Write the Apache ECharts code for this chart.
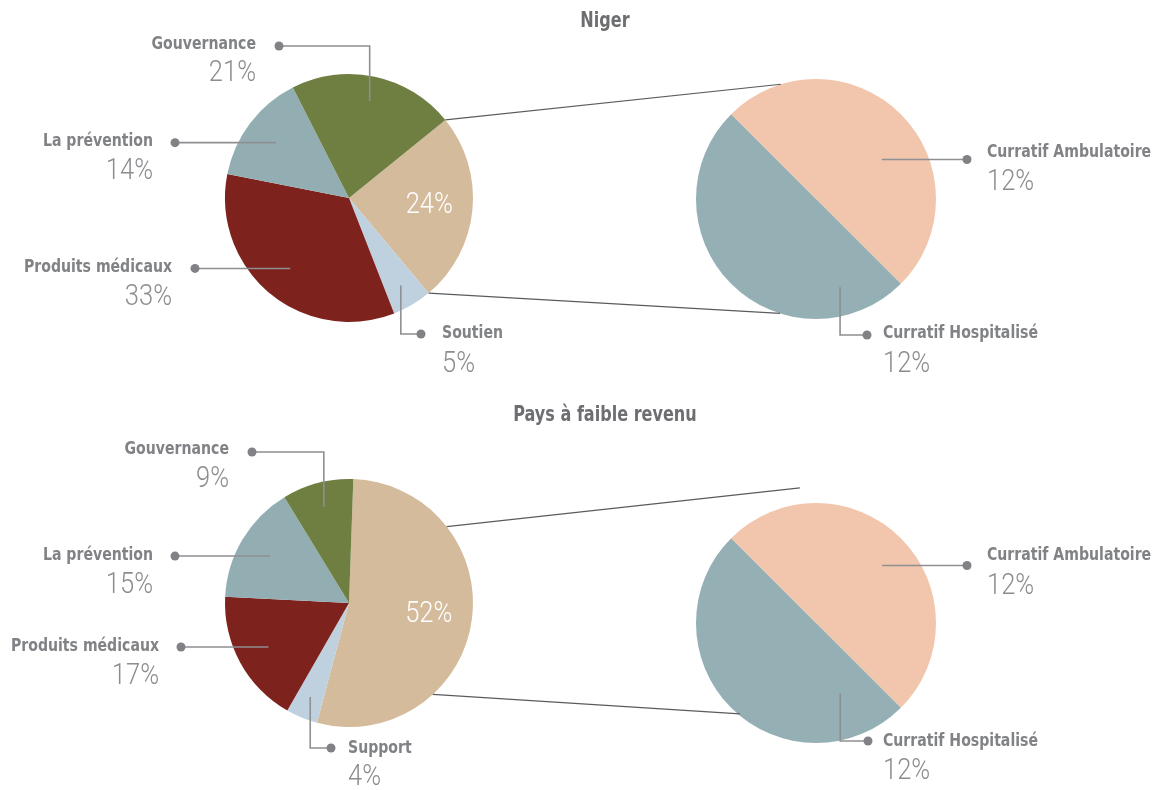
<!DOCTYPE html>
<html>
<head>
<meta charset="utf-8">
<script src="https://cdn.jsdelivr.net/npm/echarts@6/dist/echarts.min.js"></script>
<style>
  html, body { margin: 0; padding: 0; background: #ffffff; }
  #chart { width: 1155px; height: 790px; }
</style>
</head>
<body>
<div id="chart"></div>
<script>
// ---- Data ---------------------------------------------------------------
const titles = ['Niger', 'Pays à faible revenu'];

// Main pies: first slice is the curative share that is broken out on the right
const nigerCategories = ['Curatif', 'Soutien', 'Produits médicaux', 'La prévention', 'Gouvernance'];
const nigerValues = [24, 5, 33, 14, 21];
const lowIncomeCategories = ['Curatif', 'Support', 'Produits médicaux', 'La prévention', 'Gouvernance'];
const lowIncomeValues = [52, 4, 17, 15, 9];

// Breakdown of the curative share
const curativeCategories = ['Curratif Ambulatoire', 'Curratif Hospitalisé'];
const nigerCurativeValues = [12, 12];
const lowIncomeCurativeValues = [12, 12];

// ---- Styles -------------------------------------------------------------
const mainColors = ['#d4bb9b', '#bfd1de', '#7d221c', '#93aeb3', '#6e7f41'];
const curativeColors = ['#f2c5ad', '#94b0b5'];
const NAME_FONT = '"DejaVu Sans Condensed", "DejaVu Sans", sans-serif';
const PCT_FONT = 'Roboto, "Open Sans", sans-serif';
const NAME_COLOR = '#808285';
const PCT_COLOR = '#8c8d90';
const LEADER_COLOR = '#8e8f92';
const LINK_COLOR = '#5a5b5d';
const NAME_SCALE = 0.87;   // horizontal squeeze for a condensed look
const PCT_SCALE = 0.88;
const TITLE_SCALE = 0.85;

// ---- Layout of the two panels ------------------------------------------
const panels = [
  {
    title: titles[0], titleY: 22,
    main: { names: nigerCategories, values: nigerValues, center: [349, 198], radius: 124, startAngle: 39 },
    sub: { names: curativeCategories, values: nigerCurativeValues, center: [816, 199], radius: 120, startAngle: 135 },
    // connectors: start on the curative slice edges, end on the breakdown pie (polar: degrees, px)
    links: [{ to: [107, 120] }, { to: [-107.5, 120] }],
    insideR: 0.65,
    mainCallouts: [
      null,
      { kind: 'v', r: 0.82, elbowY: 334, dotX: 421, side: 'right', gap: 21, nameDy: -1, pctDy: 31 },
      { kind: 'h', r: 0.74, dotX: 195, side: 'left', gap: 23, nameDy: -1, pctDy: 29 },
      { kind: 'h', r: 0.74, dotX: 175, side: 'left', gap: 22, nameDy: -1, pctDy: 29 },
      { kind: 'v', r: 0.80, elbowY: 46, dotX: 279, side: 'left', gap: 23, nameDy: -2, pctDy: 28 }
    ],
    subCallouts: [
      { kind: 'h', angle: 31, r: 0.64, dotX: 967, side: 'right', gap: 20, nameDy: -7, pctDy: 23 },
      { kind: 'v', angle: -74.7, r: 0.76, elbowY: 335, dotX: 867, side: 'right', gap: 16, nameDy: -2, pctDy: 30 }
    ]
  },
  {
    title: titles[1], titleY: 416,
    main: { names: lowIncomeCategories, values: lowIncomeValues, center: [349, 603], radius: 124, startAngle: 88 },
    sub: { names: curativeCategories, values: lowIncomeCurativeValues, center: [816, 623], radius: 120, startAngle: 135 },
    links: [{ from: 38, to: [96.8, 136] }, { from: -47.5, to: [-129.9, 118.5] }],
    insideR: 0.65,
    mainCallouts: [
      null,
      { kind: 'v', r: 0.82, elbowY: 748, dotX: 331, side: 'right', gap: 17, nameDy: 0, pctDy: 30 },
      { kind: 'h', r: 0.74, dotX: 181, side: 'left', gap: 22, nameDy: -1, pctDy: 30 },
      { kind: 'h', r: 0.74, dotX: 175, side: 'left', gap: 22, nameDy: -1, pctDy: 30 },
      { kind: 'v', r: 0.80, elbowY: 452, dotX: 252, side: 'left', gap: 23, nameDy: -3, pctDy: 28 }
    ],
    subCallouts: [
      { kind: 'h', angle: 41, r: 0.73, dotX: 967, side: 'right', gap: 20, nameDy: -10, pctDy: 21 },
      { kind: 'v', angle: -71, r: 0.62, elbowY: 741, dotX: 868, side: 'right', gap: 15, nameDy: 0, pctDy: 31 }
    ]
  }
];

// ---- Geometry helpers (same proportional layout the pie series uses) ----
function sliceAngles(values, startDeg) {
  const total = values.reduce((a, b) => a + b, 0);
  let a = startDeg;
  return values.map(v => {
    const span = v / total * 360;
    const s = { start: a, end: a - span, mid: a - span / 2 };
    a -= span;
    return s;
  });
}
function polar(center, r, deg) {
  const t = deg * Math.PI / 180;
  return [center[0] + r * Math.cos(t), center[1] - r * Math.sin(t)];
}

// ---- Series ------------------------------------------------------------
function pieSeries(p, colors) {
  return {
    type: 'pie',
    center: p.center,
    radius: p.radius,
    startAngle: p.startAngle,
    clockwise: true,
    animation: false,
    silent: true,
    label: { show: false },
    labelLine: { show: false },
    emphasis: { disabled: true },
    itemStyle: { borderWidth: 0 },
    data: p.values.map((v, i) => ({ name: p.names[i], value: v, itemStyle: { color: colors[i] } }))
  };
}

const series = [];
const graphics = [];

function textEl(x, y, text, font, fill, align, scale) {
  return {
    type: 'text', silent: true, z: 12, x: x, y: y, scaleX: scale,
    style: { text: text, align: align, verticalAlign: 'middle', font: font, fill: fill }
  };
}

function callout(p, spec, anchorDeg, name, value) {
  const A = polar(p.center, p.radius * spec.r, anchorDeg);
  let pts, refY;
  if (spec.kind === 'h') {
    pts = [A, [spec.dotX, A[1]]];
    refY = A[1];
  } else {
    pts = [A, [A[0], spec.elbowY], [spec.dotX, spec.elbowY]];
    refY = spec.elbowY;
  }
  graphics.push({
    type: 'polyline', silent: true, z: 10,
    shape: { points: pts },
    style: { stroke: LEADER_COLOR, lineWidth: 1.6, fill: null }
  });
  graphics.push({
    type: 'circle', silent: true, z: 11,
    shape: { cx: spec.dotX, cy: refY, r: 4.5 },
    style: { fill: NAME_COLOR }
  });
  const tx = spec.side === 'left' ? spec.dotX - spec.gap : spec.dotX + spec.gap;
  const align = spec.side === 'left' ? 'right' : 'left';
  graphics.push(textEl(tx, refY + spec.nameDy, name, 'bold 18px ' + NAME_FONT, NAME_COLOR, align, NAME_SCALE));
  graphics.push(textEl(tx, refY + spec.pctDy, value + '%', '300 29px ' + PCT_FONT, PCT_COLOR, align, PCT_SCALE));
}

panels.forEach(panel => {
  series.push(pieSeries(panel.main, mainColors));
  series.push(pieSeries(panel.sub, curativeColors));

  graphics.push(textEl(605, panel.titleY, panel.title, 'bold 21px ' + NAME_FONT, '#6d6e71', 'center', TITLE_SCALE));

  const mainAngles = sliceAngles(panel.main.values, panel.main.startAngle);

  // Curative slice: value inside, and the two connectors to the breakdown pie
  const cur = mainAngles[0];
  const inside = polar(panel.main.center, panel.main.radius * panel.insideR, cur.mid);
  graphics.push(textEl(inside[0], inside[1], panel.main.values[0] + '%', '300 29px ' + PCT_FONT, '#ffffff', 'center', PCT_SCALE));

  const edges = [cur.start, cur.end];
  panel.links.forEach((link, k) => {
    const fromDeg = link.from !== undefined ? link.from : edges[k];
    const from = polar(panel.main.center, panel.main.radius, fromDeg);
    const to = polar(panel.sub.center, link.to[1], link.to[0]);
    graphics.push({
      type: 'line', silent: true, z: 5,
      shape: { x1: from[0], y1: from[1], x2: to[0], y2: to[1] },
      style: { stroke: LINK_COLOR, lineWidth: 1.2 }
    });
  });

  panel.mainCallouts.forEach((spec, i) => {
    if (!spec) return;
    callout(panel.main, spec, mainAngles[i].mid, panel.main.names[i], panel.main.values[i]);
  });
  panel.subCallouts.forEach((spec, i) => {
    callout(panel.sub, spec, spec.angle, panel.sub.names[i], panel.sub.values[i]);
  });
});

const chart = echarts.init(document.getElementById('chart'), null, { renderer: 'canvas' });
chart.setOption({
  backgroundColor: '#ffffff',
  animation: false,
  series: series,
  graphic: graphics
});
</script>
</body>
</html>
